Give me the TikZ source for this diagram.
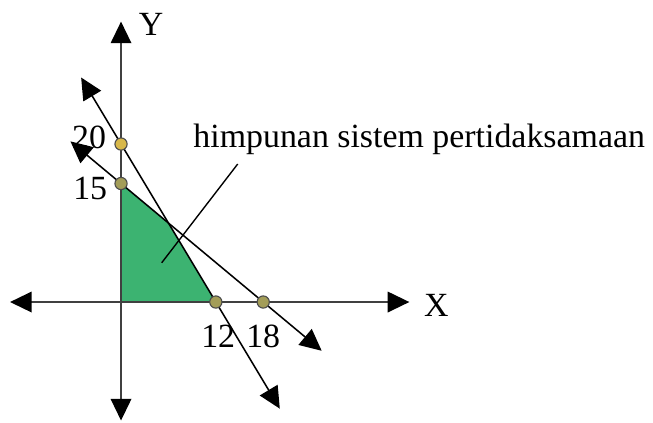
\documentclass[tikz,border=0pt]{standalone}
\usepackage{fontspec}
\setmainfont{Liberation Serif}
\usetikzlibrary{arrows.meta}
\definecolor{regiongreen}{HTML}{3CB371}
\definecolor{dotgold}{HTML}{D8B84A}
\definecolor{dotolive}{HTML}{A39D58}
\tikzset{
  axln/.style={draw=black!75, line width=0.6pt, {Triangle[length=7.8pt,width=7.4pt,black]}-{Triangle[length=7.8pt,width=7.4pt,black]}},
  bndln/.style={draw=black, line width=0.55pt, {Triangle[length=7.8pt,width=7.4pt]}-{Triangle[length=7.8pt,width=7.4pt]}},
  ptdot/.style={circle, draw=black!70, line width=0.4pt, minimum size=4.4pt, inner sep=0pt},
  numlbl/.style={font=\fontsize{12.2}{14}\selectfont, inner sep=0pt},
  leader/.style={draw=black, line width=0.5pt}
}
\begin{document}
\begin{tikzpicture}[x=1mm,y=1mm]
  \useasboundingbox (-15.32,-15.19) rectangle (67.34,38.23);
  % region
  \fill[regiongreen] (0,0) -- (0,15) -- (6,10) -- (12,0) -- cycle;
  % axes
  \coordinate (xl) at (-14.05,0);
  \coordinate (xr) at (36.5,0);
  \coordinate (yt) at (0,35.5);
  \coordinate (yb) at (0,-15.0);
  \draw[axln] (xl) -- (xr);
  \draw[axln] (yb) -- (yt);
  % boundary lines
  \coordinate (a1) at (-5.05,28.42);
  \coordinate (a2) at (20.1,-13.5);
  \coordinate (b1) at (-6.4,20.33);
  \coordinate (b2) at (25.4,-6.17);
  \draw[bndln] (a1) -- (a2);
  \draw[bndln] (b1) -- (b2);
  % intercepts
  \node[ptdot, fill=dotgold] (d20) at (0,20) {};
  \node[ptdot, fill=dotolive] (d15) at (0,15) {};
  \node[ptdot, fill=dotolive] (d12) at (12,0) {};
  \node[ptdot, fill=dotolive] (d18) at (18,0) {};
  % labels
  \node[numlbl] (n20) at (-4.05,20.8) {20};
  \node[numlbl] (n15) at (-3.9,14.4) {15};
  \node[numlbl] (n12) at (12.3,-4.4) {12};
  \node[numlbl] (n18) at (18,-4.4) {18};
  \node[numlbl] (lx) at (39.9,-0.4) {X};
  \node[numlbl] (ly) at (3.8,35.2) {Y};
  \node[numlbl, anchor=base west] (lbl) at (9.1,19.5) {himpunan sistem pertidaksamaan};
  \coordinate (ldtop) at (14.77,17.47);
  \coordinate (ldend) at (5.15,4.97);
  \draw[leader] (ldtop) -- (ldend);
\end{tikzpicture}
\end{document}
